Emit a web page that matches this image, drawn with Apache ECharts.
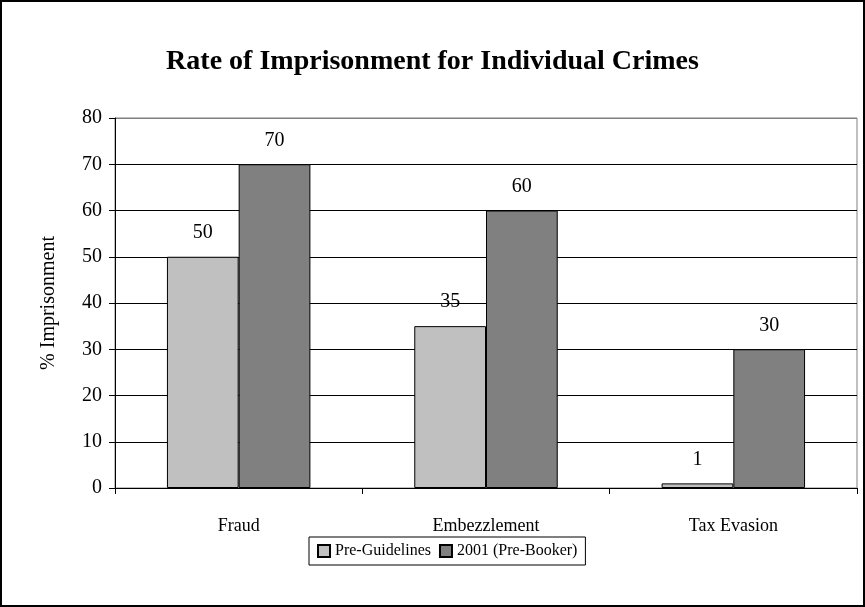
<!DOCTYPE html>
<html>
<head>
<meta charset="utf-8">
<script src="https://cdn.jsdelivr.net/npm/echarts@6/dist/echarts.min.js"></script>
<style>
html,body{margin:0;padding:0;background:#fff;}
#wrap{position:absolute;left:0;top:0;width:861px;height:603px;border:2px solid #000;}
#chart{width:865px;height:607px;position:absolute;left:-2px;top:-2px;}
</style>
</head>
<body>
<div id="wrap"><div id="chart"></div></div>
<script>
var categories = ['Fraud', 'Embezzlement', 'Tax Evasion'];
var preGuidelines = [50, 35, 1];
var preBooker2001 = [70, 60, 30];
var seriesNames = ['Pre-Guidelines', '2001 (Pre-Booker)'];

var chart = echarts.init(document.getElementById('chart'));
var font = 'Liberation Serif, Times New Roman, serif';
var gridColors = ['#000','#000','#000','#000','#000','#000','#000','#000','#808080'];
chart.setOption({
  animation: false,
  backgroundColor: 'transparent',
  title: {
    text: 'Rate of Imprisonment for Individual Crimes',
    left: 'center', top: 43,
    textStyle: {fontFamily: font, fontSize: 28, fontWeight: 'bold', color: '#000'}
  },
  legend: {
    bottom: 42, left: 309,
    icon: 'rect',
    itemWidth: 12, itemHeight: 12, itemGap: 8, itemSpacing: 4,
    borderColor: '#000', borderWidth: 1, padding: [6, 8, 6, 8],
    textStyle: {fontFamily: font, fontSize: 16, color: '#000'},
    data: seriesNames
  },
  grid: {left: 115, right: 8, top: 118, bottom: 119, show: true, borderColor: '#808080', borderWidth: 1},
  xAxis: {
    type: 'category', data: categories,
    axisLine: {lineStyle: {color: '#000', width: 1}},
    axisTick: {show: true, length: 6, lineStyle: {color: '#000'}},
    axisLabel: {fontFamily: font, fontSize: 18, color: '#000', margin: 29}
  },
  yAxis: {
    type: 'value', min: 0, max: 80, interval: 10,
    name: '% Imprisonment', nameLocation: 'middle', nameGap: 56, nameRotate: 90,
    nameTextStyle: {fontFamily: font, fontSize: 20, color: '#000'},
    axisLine: {show: true, lineStyle: {color: '#000', width: 1}},
    axisTick: {show: true, length: 6, lineStyle: {color: '#000'}},
    axisLabel: {fontFamily: font, fontSize: 20, color: '#000', margin: 13},
    splitLine: {show: true, lineStyle: {color: gridColors, width: 1}}
  },
  series: [
    {
      name: seriesNames[0], type: 'bar', data: preGuidelines,
      barGap: '0%', barCategoryGap: '42%',
      itemStyle: {color: '#C0C0C0', borderColor: '#000', borderWidth: 1},
      label: {show: true, position: 'top', distance: 14, fontFamily: font, fontSize: 20, color: '#000'}
    },
    {
      name: seriesNames[1], type: 'bar', data: preBooker2001,
      barGap: '0%', barCategoryGap: '42%',
      itemStyle: {color: '#808080', borderColor: '#000', borderWidth: 1},
      label: {show: true, position: 'top', distance: 14, fontFamily: font, fontSize: 20, color: '#000'}
    }
  ]
});
</script>
</body>
</html>
